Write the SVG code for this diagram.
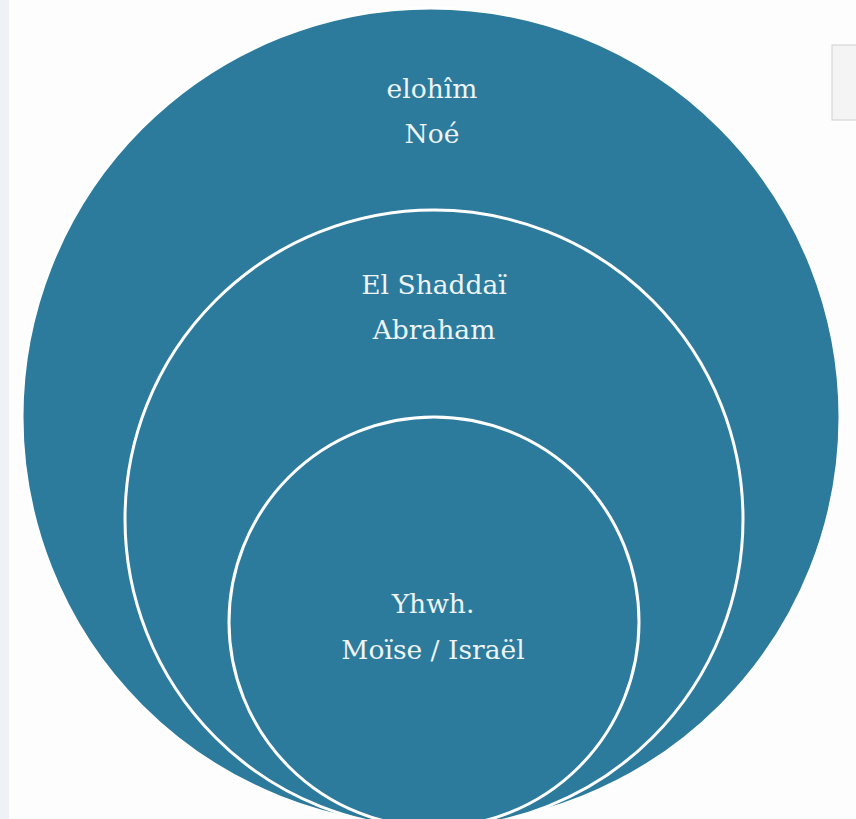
<svg xmlns="http://www.w3.org/2000/svg" width="856" height="819" viewBox="0 0 856 819">
<style>
.ring{fill:#2c7b9d;stroke:#ffffff;stroke-width:3}
.lbl{font-family:"DejaVu Serif","Liberation Serif",serif;font-size:26.5px;fill:#eef4f7;text-anchor:middle}
</style>
<rect x="0" y="0" width="856" height="819" fill="#fdfdfe"/>
<rect x="0" y="0" width="9" height="819" fill="#eef1f5"/>
<rect x="832" y="45" width="30" height="75" fill="#f4f4f4" stroke="#cfcfcf" stroke-width="1"/>
<g id="outer"><circle class="ring" cx="431" cy="417" r="409" stroke="none"/><text class="lbl" x="432" y="98">elohîm</text><text class="lbl" x="432" y="143">Noé</text></g>
<g id="middle"><circle class="ring" cx="434" cy="519" r="309"/><text class="lbl" x="434" y="294">El Shaddaï</text><text class="lbl" x="434" y="339">Abraham</text></g>
<g id="inner"><circle class="ring" cx="434" cy="622" r="205"/><text class="lbl" x="433" y="613">Yhwh.</text><text class="lbl" x="433" y="659">Moïse / Israël</text></g>
<g id="connectors"/>
</svg>
